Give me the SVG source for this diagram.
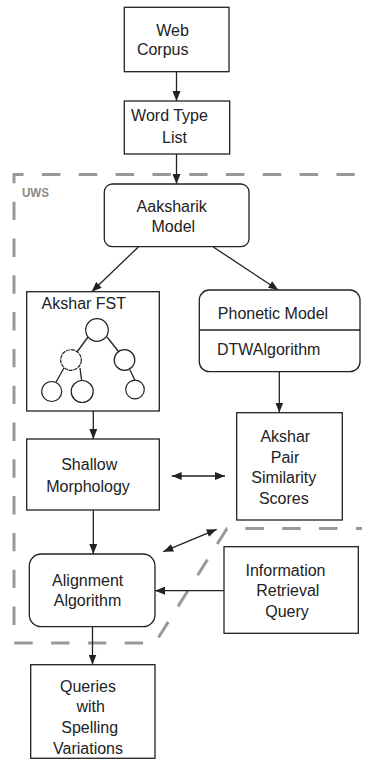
<svg xmlns="http://www.w3.org/2000/svg" width="365" height="768" viewBox="0 0 365 768">
<style>
.box{fill:#fff;stroke:#222;stroke-width:1.3}
.t{font-family:"Liberation Sans",Arial,sans-serif;font-size:16px;fill:#222;text-anchor:middle}
.c{stroke:#222;stroke-width:1.3;fill:none}
.n{fill:#fff;stroke:#222;stroke-width:1.2}
.region{fill:none;stroke:#999;stroke-width:3;stroke-dasharray:18.4 18.4}
</style>
<defs>
<marker id="ah" markerWidth="10" markerHeight="8" refX="10" refY="4" orient="auto-start-reverse" markerUnits="userSpaceOnUse">
<path d="M0,0 L10,4 L0,8 z" fill="#222"/>
</marker>
</defs>
<rect width="365" height="768" fill="#fff"/>

<g id="region">
<path class="region" d="M354.8 174.5 H14 V643 H155 L227 528.5 H362"/>
<text x="35.5" y="197" style="font-family:'Liberation Sans',Arial,sans-serif;font-size:12px;font-weight:bold;fill:#8a8a8a;text-anchor:middle" textLength="27" lengthAdjust="spacingAndGlyphs">UWS</text>
</g>

<g id="connectors">
<line class="c" x1="176.5" y1="72" x2="176.5" y2="101" marker-end="url(#ah)"/>
<line class="c" x1="176.5" y1="154" x2="176.5" y2="184" marker-end="url(#ah)"/>
<line class="c" x1="138.3" y1="247" x2="91.7" y2="291.7" marker-end="url(#ah)"/>
<line class="c" x1="213.3" y1="247" x2="278.3" y2="290" marker-end="url(#ah)"/>
<line class="c" x1="279.3" y1="372" x2="279.3" y2="412.5" marker-end="url(#ah)"/>
<line class="c" x1="93.3" y1="411" x2="93.3" y2="439" marker-end="url(#ah)"/>
<line class="c" x1="171.7" y1="476" x2="225" y2="476" marker-start="url(#ah)" marker-end="url(#ah)"/>
<line class="c" x1="93.3" y1="510" x2="93.3" y2="554" marker-end="url(#ah)"/>
<line class="c" x1="163.3" y1="551.7" x2="216.7" y2="529.3" marker-start="url(#ah)" marker-end="url(#ah)"/>
<line class="c" x1="224" y1="590.7" x2="155" y2="590.7" marker-end="url(#ah)"/>
<line class="c" x1="92.5" y1="627" x2="92.5" y2="664.5" marker-end="url(#ah)"/>
</g>

<g id="web-corpus">
<rect class="box" x="124.3" y="7.3" width="104.7" height="64.4"/>
<text class="t" x="172.5" y="36">Web</text>
<text class="t" x="162.7" y="55">Corpus</text>
</g>

<g id="word-type-list">
<rect class="box" x="124.3" y="101" width="105.4" height="53"/>
<text class="t" x="169.5" y="121.3">Word Type</text>
<text class="t" x="174.5" y="143">List</text>
</g>

<g id="aaksharik-model">
<rect class="box" x="104.3" y="184" width="144.7" height="62.7" rx="8"/>
<text class="t" x="171.7" y="212">Aaksharik</text>
<text class="t" x="173.3" y="232">Model</text>
</g>

<g id="akshar-fst">
<rect class="box" x="26.7" y="291.7" width="132.6" height="119.3"/>
<text class="t" x="83.8" y="309.3">Akshar FST</text>
<line class="c" x1="88" y1="337" x2="77" y2="352"/>
<line class="c" x1="107" y1="337" x2="118.5" y2="351.5"/>
<line class="c" x1="64" y1="368" x2="56" y2="382"/>
<line class="c" x1="80" y1="368" x2="81.7" y2="381"/>
<line class="c" x1="130" y1="370" x2="135" y2="380.5"/>
<circle class="n" cx="97" cy="330" r="11.3"/>
<circle class="n" cx="71" cy="360" r="10.3" stroke-dasharray="4 0.8"/>
<circle class="n" cx="124.5" cy="360" r="10.3"/>
<circle class="n" cx="51.7" cy="391.5" r="10"/>
<circle class="n" cx="82.2" cy="391.5" r="11"/>
<circle class="n" cx="135" cy="389.5" r="9.3"/>
</g>

<g id="phonetic-model">
<rect class="box" x="199.3" y="290" width="160.7" height="81.7" rx="10"/>
<line class="c" x1="199.3" y1="330" x2="360" y2="330"/>
<text class="t" x="273" y="318.5">Phonetic Model</text>
<text class="t" x="268.7" y="355.3">DTWAlgorithm</text>
</g>

<g id="akshar-pair">
<rect class="box" x="236.7" y="412.7" width="105.6" height="107.3"/>
<text class="t" x="285.3" y="442">Akshar</text>
<text class="t" x="285" y="462.5">Pair</text>
<text class="t" x="283.8" y="483.3">Similarity</text>
<text class="t" x="283.8" y="503.5">Scores</text>
</g>

<g id="shallow-morphology">
<rect class="box" x="26.7" y="439" width="132.6" height="71"/>
<text class="t" x="89.2" y="470">Shallow</text>
<text class="t" x="88" y="491.7">Morphology</text>
</g>

<g id="alignment-algorithm">
<rect class="box" x="29.3" y="554" width="125.7" height="72.7" rx="12"/>
<text class="t" x="87.7" y="586">Alignment</text>
<text class="t" x="87.5" y="606">Algorithm</text>
</g>

<g id="ir-query">
<rect class="box" x="224" y="546.7" width="134.3" height="86.6"/>
<text class="t" x="285.5" y="576">Information</text>
<text class="t" x="287.8" y="596">Retrieval</text>
<text class="t" x="287" y="617">Query</text>
</g>

<g id="queries-variations">
<rect class="box" x="30.7" y="664.7" width="124.3" height="93.6"/>
<text class="t" x="88" y="692">Queries</text>
<text class="t" x="90.7" y="712">with</text>
<text class="t" x="89.7" y="733.3">Spelling</text>
<text class="t" x="88" y="753.5">Variations</text>
</g>
</svg>
